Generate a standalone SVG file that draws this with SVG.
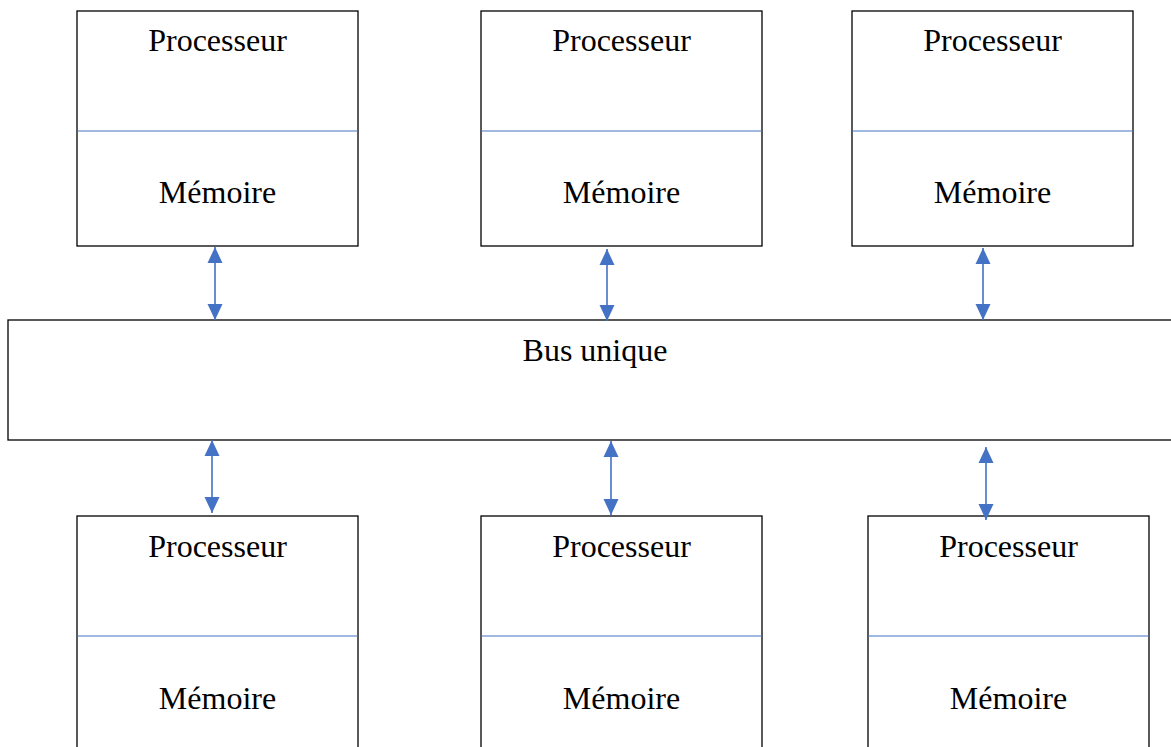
<svg xmlns="http://www.w3.org/2000/svg" width="1171" height="747" viewBox="0 0 1171 747">
  <style>
    .box { fill: #ffffff; stroke: #000000; stroke-width: 1.3; }
    .divider { stroke: #4472C4; stroke-width: 1.2; }
    .label { font-family: "Liberation Serif", "Times New Roman", serif; font-size: 32px; fill: #000000; text-anchor: middle; }
    .link { stroke: #4472C4; stroke-width: 1.6; fill: none; marker-start: url(#head); marker-end: url(#head); }
  </style>
  <defs>
    <marker id="head" viewBox="0 0 16 16" refX="16" refY="8" markerWidth="16" markerHeight="16" markerUnits="userSpaceOnUse" orient="auto-start-reverse">
      <path d="M0,0.5 L16,8 L0,15.5 Z" fill="#4472C4"/>
    </marker>
  </defs>
  <rect width="1171" height="747" fill="#ffffff"/>

  <!-- shared bus -->
  <g id="bus">
    <rect class="box" x="8" y="320" width="1180" height="120"/>
    <text class="label" x="595" y="361">Bus unique</text>
  </g>

  <!-- top row of processor/memory units -->
  <g id="unit-top-1">
    <rect class="box" x="77" y="11" width="281" height="235"/>
    <line class="divider" x1="77" y1="131" x2="358" y2="131"/>
    <text class="label" x="217.5" y="51">Processeur</text>
    <text class="label" x="217.5" y="203">Mémoire</text>
  </g>
  <g id="unit-top-2">
    <rect class="box" x="481" y="11" width="281" height="235"/>
    <line class="divider" x1="481" y1="131" x2="762" y2="131"/>
    <text class="label" x="621.5" y="51">Processeur</text>
    <text class="label" x="621.5" y="203">Mémoire</text>
  </g>
  <g id="unit-top-3">
    <rect class="box" x="852" y="11" width="281" height="235"/>
    <line class="divider" x1="852" y1="131" x2="1133" y2="131"/>
    <text class="label" x="992.5" y="51">Processeur</text>
    <text class="label" x="992.5" y="203">Mémoire</text>
  </g>

  <!-- bottom row of processor/memory units -->
  <g id="unit-bottom-1">
    <rect class="box" x="77" y="516" width="281" height="250"/>
    <line class="divider" x1="77" y1="636" x2="358" y2="636"/>
    <text class="label" x="217.5" y="557">Processeur</text>
    <text class="label" x="217.5" y="709">Mémoire</text>
  </g>
  <g id="unit-bottom-2">
    <rect class="box" x="481" y="516" width="281" height="250"/>
    <line class="divider" x1="481" y1="636" x2="762" y2="636"/>
    <text class="label" x="621.5" y="557">Processeur</text>
    <text class="label" x="621.5" y="709">Mémoire</text>
  </g>
  <g id="unit-bottom-3">
    <rect class="box" x="868" y="516" width="281" height="250"/>
    <line class="divider" x1="868" y1="636" x2="1149" y2="636"/>
    <text class="label" x="1008.5" y="557">Processeur</text>
    <text class="label" x="1008.5" y="709">Mémoire</text>
  </g>

  <!-- bidirectional links to the bus -->
  <g id="connectors">
    <line class="link" x1="215" y1="247" x2="215" y2="320"/>
    <line class="link" x1="607" y1="249" x2="607" y2="321"/>
    <line class="link" x1="983" y1="248" x2="983" y2="320"/>
    <line class="link" x1="212" y1="440" x2="212" y2="513"/>
    <line class="link" x1="611" y1="441" x2="611" y2="515"/>
    <line class="link" x1="986" y1="447" x2="986" y2="520"/>
  </g>
</svg>
